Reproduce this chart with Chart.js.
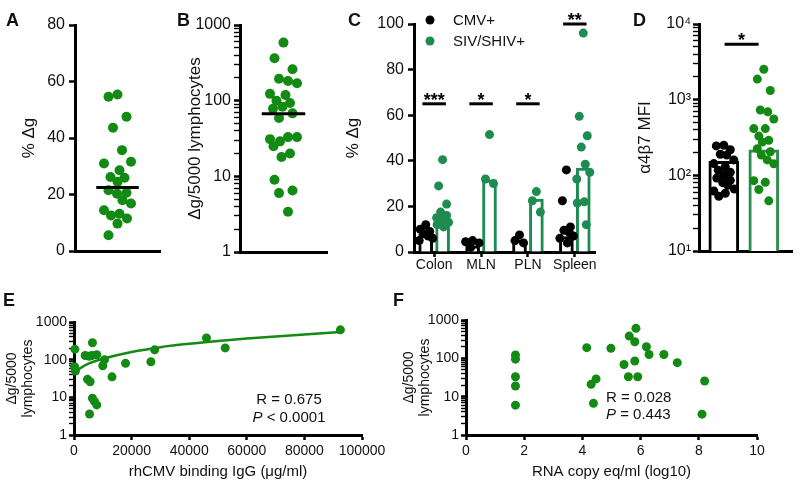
<!DOCTYPE html>
<html>
<head>
<meta charset="utf-8">
<script src="https://cdn.jsdelivr.net/npm/chart.js@4.4.1/dist/chart.umd.min.js"></script>
<style>
    body { margin: 0; background: #fff; }
    #fig { position: relative; width: 800px; height: 490px; overflow: hidden; font-family: 'Liberation Sans', Arial, sans-serif; color: #111; }
    #fig canvas { position: absolute; }
    .tag { position: absolute; font-size: 18px; font-weight: bold; line-height: 18px; }
    .stat { position: absolute; font-size: 15px; line-height: 18px; white-space: nowrap; }
</style>
</head>
<body>
<div id="fig">
    <canvas id="chartA" width="165" height="290" style="left:0px;top:0px"></canvas>
    <canvas id="chartB" width="170" height="290" style="left:165px;top:0px"></canvas>
    <canvas id="chartC" width="270" height="290" style="left:335px;top:0px"></canvas>
    <canvas id="chartD" width="195" height="290" style="left:605px;top:0px"></canvas>
    <canvas id="chartE" width="392" height="195" style="left:0px;top:295px"></canvas>
    <canvas id="chartF" width="408" height="195" style="left:392px;top:295px"></canvas>
    <div class="tag" style="left:6px;top:11px">A</div>
    <div class="tag" style="left:177px;top:11px">B</div>
    <div class="tag" style="left:348px;top:11px">C</div>
    <div class="tag" style="left:633px;top:11px">D</div>
    <div class="tag" style="left:3px;top:291px">E</div>
    <div class="tag" style="left:393px;top:291px">F</div>
    <div class="stat" style="left:239px;top:390px;width:100px;text-align:center">R = 0.675<br><i>P</i> &lt; 0.0001</div>
    <div class="stat" style="left:606px;top:388px;line-height:17px">R = 0.028<br><i>P</i> = 0.443</div>
</div>
<script>
// A: % Δg per animal
const pctDeltaG = [55.4, 54.6, 47.5, 43.6, 35.7, 31.6, 31.0, 28.6, 26.2, 25.9, 24.5, 21.5, 20.6, 20.3, 18.0, 16.8, 14.4, 13.2, 12.6, 11.5, 9.7, 5.6]
const pctDeltaGMean = 22.5

// B: Δg per 5000 lymphocytes
const countDeltaG = [585, 363, 260, 195, 182, 170, 123, 119, 100, 93, 83, 78, 68, 59, 33, 33, 31, 29, 25, 20, 18, 9, 6.5, 6, 3.4]
const countDeltaGMean = 67

// C: % Δg by tissue
const tissues = ['Colon', 'MLN', 'PLN', 'Spleen']
const cmvColon = [12, 10, 9, 8, 7, 6, 5]
const cmvMLN = [5, 4.5, 4, 2]
const cmvPLN = [7.5, 5, 4]
const cmvSpleen = [36, 22.5, 11, 9.5, 8.5, 7, 6, 4]
const sivColon = [40.5, 29, 21, 17.5, 16, 15, 14, 13, 12, 11]
const sivMLN = [51.5, 32, 30]
const sivPLN = [26.5, 22.5, 17.5]
const sivSpleen = [96, 59.5, 51, 46, 38.5, 35, 32, 22, 21.5, 12]
const cmvTissueMeans = [8, 2.5, 5.3, 6.8]
const sivTissueMeans = [15.3, 31.7, 23.2, 36.8]
const tissueSigY = [65, 65, 65, 100]
const tissueSigStars = ['***', '*', '*', '**']

// D: α4β7 MFI
const cmvMfi = [250, 245, 218, 190, 185, 160, 143, 130, 117, 110, 100, 92, 86, 80, 74, 66, 62, 58, 53]
const sivMfi = [2520, 1870, 1320, 730, 690, 555, 415, 415, 330, 290, 275, 225, 205, 185, 160, 142, 85, 81, 65, 46]
const mfiMeans = [153, 218]
const mfiSigY = 5400

// E: rhCMV binding IgG vs Δg count
const igG = [300, 200, 500, 6400, 3900, 6200, 7900, 5300, 10600, 10000, 4700, 5600, 6400, 7100, 7900, 5400, 13200, 17900, 26700, 28000, 46000, 52500, 92500]
const igGCount = [190, 65, 50, 282, 129, 129, 135, 123, 100, 69, 30, 26, 9.5, 7.8, 6.3, 3.6, 35, 80, 88, 182, 377, 205, 620]
const igGFitX = [0, 5000, 10000, 20000, 30000, 40000, 50000, 60000, 70000, 80000, 92500]
const igGFitY = [47, 78, 106, 160, 215, 265, 315, 365, 415, 468, 545]

// F: viral load vs Δg count
const rnaLog = [1.7, 1.7, 1.7, 1.7, 1.7, 4.15, 4.98, 4.3, 4.47, 4.38, 5.43, 5.61, 5.84, 5.8, 5.8, 5.58, 5.9, 6.2, 6.29, 6.8, 7.26, 8.2, 8.11]
const rnaCount = [122, 95, 33, 19, 6, 190, 182, 21, 29, 6.7, 69, 380, 605, 270, 85, 33, 33, 200, 126, 126, 77, 25.7, 3.5]

const green = '#138a13'
const tealGreen = '#1e8c50'
const BAR_SHIFT = 0.18

Chart.defaults.font.family = "'Liberation Sans', Arial, sans-serif"
Chart.defaults.color = '#111'
Chart.defaults.animation = false
Chart.defaults.events = []
Chart.defaults.plugins.legend.display = false
Chart.defaults.plugins.tooltip.enabled = false

const axisLine = { display: true, color: '#000', width: 3 }
const isPow10 = v => Math.abs(Math.log10(v) - Math.round(Math.log10(v))) < 1e-9
const supDigits = ['\u2070', '\u00b9', '\u00b2', '\u00b3', '\u2074']

const fixWidth = w => scale => { scale.width = w }
const fixHeight = h => scale => { scale.height = h }

// 1..9 per decade, so the minor ticks show like the original
function logTicks(scale) {
    const ticks = []
    const lo = Math.round(Math.log10(scale.min))
    const hi = Math.round(Math.log10(scale.max))
    for (let e = lo; e < hi; e++) {
        for (let m = 1; m < 10; m++) ticks.push({ value: m * Math.pow(10, e) })
    }
    ticks.push({ value: Math.pow(10, hi) })
    scale.ticks = ticks
}

const tickMarks = {
    display: true,
    drawOnChartArea: false,
    offset: false,
    tickLength: 6,
    tickColor: '#000',
    tickWidth: 2.5,
}
const logTickMarks = {
    display: true,
    drawOnChartArea: false,
    tickLength: 6,
    tickColor: '#000',
    tickWidth: c => isPow10(c.tick.value) ? 2.5 : 1.4,
}

function yTitle(text, size) {
    return { display: true, text: text, font: { size: size }, padding: { top: 4, bottom: 4 } }
}

// spreads dots sideways in a group so they overlap like the original
const swarmPrefs = [0, -0.6, 0.6, -0.3, 0.3, 0.9, -0.9, 0.15, -0.45, 0.45]
function swarm(chart, dsIndex, maxOff, gap) {
    const ds = chart.data.datasets[dsIndex]
    const xs = chart.scales.x
    const ys = chart.scales.y
    const groups = {}
    ds.data.forEach(p => { (groups[p.x] = groups[p.x] || []).push(p) })
    Object.keys(groups).forEach(key => {
        const cx = xs.getPixelForValue(Number(key))
        const placed = []
        groups[key].slice().sort((a, b) => b.y - a.y).forEach((p, i) => {
            const py = ys.getPixelForValue(p.y)
            const want = swarmPrefs[i % swarmPrefs.length] * maxOff
            let best = want
            let bestCost = Infinity
            for (let off = -maxOff; off <= maxOff; off += 0.5) {
                let near = gap
                placed.forEach(q => { near = Math.min(near, Math.hypot(q.dx - off, q.py - py)) })
                const cost = (gap - near) * 4 + Math.abs(off - want)
                if (cost < bestCost) { bestCost = cost; best = off }
            }
            placed.push({ dx: best, py: py })
            p.x = xs.getValueForPixel(cx + best)
        })
    })
}

// stars over significance bars, and the dot legend of panel C
const extras = {
    id: 'extras',
    afterDatasetsDraw(chart, args, opts) {
        const ctx = chart.ctx
        ctx.save()
        chart.data.datasets.forEach((ds, i) => {
            if (!ds.stars) return
            const pts = chart.getDatasetMeta(i).data
            ctx.font = "bold 18px 'Liberation Sans', Arial, sans-serif"
            ctx.textAlign = 'center'
            ctx.textBaseline = 'alphabetic'
            ctx.fillStyle = '#000'
            ctx.fillText(ds.stars, (pts[0].x + pts[1].x) / 2, pts[0].y + 2)
        })
        if (opts.legend) {
            const lg = opts.legend
            let row = 0
            chart.data.datasets.forEach(ds => {
                if (!ds.legendDot) return
                const x = chart.chartArea.left + lg.dx
                const y = chart.chartArea.top + lg.dy + row * lg.gap
                ctx.fillStyle = ds.backgroundColor
                ctx.beginPath()
                ctx.arc(x, y, 4.5, 0, Math.PI * 2)
                ctx.fill()
                ctx.fillStyle = '#111'
                ctx.font = "15px 'Liberation Sans', Arial, sans-serif"
                ctx.textAlign = 'left'
                ctx.textBaseline = 'middle'
                ctx.fillText(ds.label, x + 23, y + 1)
                row++
            })
        }
        ctx.restore()
    }
}
Chart.register(extras)

// ---- A ----
const chartA = new Chart(document.getElementById('chartA'), {
    type: 'scatter',
    data: {
        datasets: [{
            data: pctDeltaG.map(v => ({ x: 0, y: v })),
            backgroundColor: green,
            pointRadius: 5,
            borderWidth: 0,
            clip: false,
            order: 0,
        }, {
            type: 'line',
            data: [{ x: -0.5, y: pctDeltaGMean }, { x: 0.5, y: pctDeltaGMean }],
            borderColor: '#000',
            borderWidth: 3,
            pointRadius: 0,
            order: -1,
        }]
    },
    options: {
        responsive: false,
        layout: { padding: { left: 15, top: 25, right: 5, bottom: 35 } },
        scales: {
            x: {
                type: 'linear', min: -1, max: 1,
                afterFit: fixHeight(4),
                ticks: { display: false },
                grid: { display: false },
                border: axisLine,
            },
            y: {
                min: 0, max: 80,
                afterFit: fixWidth(60),
                ticks: { stepSize: 20, font: { size: 16 }, padding: 4 },
                grid: tickMarks,
                border: axisLine,
                title: yTitle('% Δg', 17),
            }
        }
    }
})
swarm(chartA, 0, 15, 9)
chartA.update('none')

// ---- B ----
const chartB = new Chart(document.getElementById('chartB'), {
    type: 'scatter',
    data: {
        datasets: [{
            data: countDeltaG.map(v => ({ x: 0, y: v })),
            backgroundColor: green,
            pointRadius: 5,
            borderWidth: 0,
            clip: false,
            order: 0,
        }, {
            type: 'line',
            data: [{ x: -0.5, y: countDeltaGMean }, { x: 0.5, y: countDeltaGMean }],
            borderColor: '#000',
            borderWidth: 3,
            pointRadius: 0,
            order: -1,
        }]
    },
    options: {
        responsive: false,
        layout: { padding: { left: 16, top: 25, right: 8, bottom: 34 } },
        scales: {
            x: {
                type: 'linear', min: -1, max: 1,
                afterFit: fixHeight(4),
                ticks: { display: false },
                grid: { display: false },
                border: axisLine,
            },
            y: {
                type: 'logarithmic', min: 1, max: 1000,
                afterFit: fixWidth(59),
                afterBuildTicks: logTicks,
                ticks: { autoSkip: false, font: { size: 16 }, padding: 3, callback: v => isPow10(v) ? String(v) : '' },
                grid: logTickMarks,
                border: axisLine,
                title: yTitle('Δg/5000 lymphocytes', 17),
            }
        }
    }
})
swarm(chartB, 0, 15, 9)
chartB.update('none')

// ---- C ----
const cmvTissuePoints = [cmvColon, cmvMLN, cmvPLN, cmvSpleen]
const sivTissuePoints = [sivColon, sivMLN, sivPLN, sivSpleen]

const sigLinesC = tissues.map((t, i) => ({
    type: 'line',
    data: [{ x: i - 0.25, y: tissueSigY[i] }, { x: i + 0.25, y: tissueSigY[i] }],
    stars: tissueSigStars[i],
    borderColor: '#000',
    borderWidth: 3,
    pointRadius: 0,
    clip: false,
    order: 1,
}))

const chartC = new Chart(document.getElementById('chartC'), {
    type: 'scatter',
    data: {
        datasets: [{
            label: 'CMV+',
            legendDot: true,
            data: cmvTissuePoints.flatMap((vals, i) => vals.map(v => ({ x: i - BAR_SHIFT, y: v }))),
            backgroundColor: '#000',
            pointRadius: 4.5,
            borderWidth: 0,
            clip: false,
            order: 0,
        }, {
            label: 'SIV/SHIV+',
            legendDot: true,
            data: sivTissuePoints.flatMap((vals, i) => vals.map(v => ({ x: i + BAR_SHIFT, y: v }))),
            backgroundColor: tealGreen,
            pointRadius: 4.5,
            borderWidth: 0,
            clip: false,
            order: 0,
        }, {
            type: 'bar',
            data: tissues.map((t, i) => ({ x: i - BAR_SHIFT, y: cmvTissueMeans[i] })),
            backgroundColor: '#fff',
            borderColor: '#000',
            borderWidth: 3,
            borderSkipped: 'start',
            barThickness: 14,
            grouped: false,
            order: 2,
        }, {
            type: 'bar',
            data: tissues.map((t, i) => ({ x: i + BAR_SHIFT, y: sivTissueMeans[i] })),
            backgroundColor: '#fff',
            borderColor: tealGreen,
            borderWidth: 3,
            borderSkipped: 'start',
            barThickness: 14,
            grouped: false,
            order: 2,
        }, ...sigLinesC]
    },
    options: {
        responsive: false,
        layout: { padding: { left: 4, top: 24, right: 10, bottom: 8 } },
        plugins: { extras: { legend: { dx: 16, dy: -4, gap: 21 } } },
        scales: {
            x: {
                type: 'linear', min: -0.43, max: 3.43, offset: false,
                afterFit: fixHeight(30),
                afterBuildTicks: scale => { scale.ticks = tissues.map((t, i) => ({ value: i })) },
                ticks: { autoSkip: false, maxRotation: 0, font: { size: 14 }, padding: 0, callback: v => tissues[v] },
                grid: Object.assign({}, tickMarks, { tickLength: 5 }),
                border: axisLine,
            },
            y: {
                min: 0, max: 100,
                afterFit: fixWidth(75),
                ticks: { stepSize: 20, font: { size: 16 }, padding: 4 },
                grid: tickMarks,
                border: axisLine,
                title: yTitle('% Δg', 17),
            }
        }
    }
})
swarm(chartC, 0, 7, 7)
swarm(chartC, 1, 7, 7)
chartC.update('none')

// ---- D ----
const chartD = new Chart(document.getElementById('chartD'), {
    type: 'scatter',
    data: {
        datasets: [{
            data: cmvMfi.map(v => ({ x: 0, y: v })),
            backgroundColor: '#000',
            pointRadius: 4.5,
            borderWidth: 0,
            clip: false,
            order: 0,
        }, {
            data: sivMfi.map(v => ({ x: 1, y: v })),
            backgroundColor: green,
            pointRadius: 4.5,
            borderWidth: 0,
            clip: false,
            order: 0,
        }, {
            type: 'bar',
            data: [{ x: 0, y: mfiMeans[0] }],
            backgroundColor: '#fff',
            borderColor: '#000',
            borderWidth: 3,
            borderSkipped: 'start',
            barThickness: 30,
            grouped: false,
            order: 2,
        }, {
            type: 'bar',
            data: [{ x: 1, y: mfiMeans[1] }],
            backgroundColor: '#fff',
            borderColor: '#2e8b4e',
            borderWidth: 3,
            borderSkipped: 'start',
            barThickness: 30,
            grouped: false,
            order: 2,
        }, {
            type: 'line',
            data: [{ x: 0.02, y: mfiSigY }, { x: 0.87, y: mfiSigY }],
            stars: '*',
            borderColor: '#000',
            borderWidth: 3,
            pointRadius: 0,
            clip: false,
            order: 1,
        }]
    },
    options: {
        responsive: false,
        layout: { padding: { left: 26, top: 24, right: 8, bottom: 35 } },
        scales: {
            x: {
                type: 'linear', min: -0.62, max: 1.705, offset: false,
                afterFit: fixHeight(4),
                ticks: { display: false },
                grid: { display: false, offset: false },
                border: axisLine,
            },
            y: {
                type: 'logarithmic', min: 10, max: 10000,
                afterFit: fixWidth(68),
                afterBuildTicks: logTicks,
                ticks: {
                    autoSkip: false, font: { size: 16 }, padding: 2,
                    callback: v => isPow10(v) ? '10' + supDigits[Math.round(Math.log10(v))] : ''
                },
                grid: logTickMarks,
                border: axisLine,
                title: yTitle('α4β7 MFI', 17),
            }
        }
    }
})
swarm(chartD, 0, 11, 7.5)
swarm(chartD, 1, 11, 7.5)
chartD.update('none')

// ---- E ----
const lowerY = {
    type: 'logarithmic', min: 1, max: 1000,
    afterBuildTicks: logTicks,
    ticks: { autoSkip: false, font: { size: 14 }, padding: 2, callback: v => isPow10(v) ? String(v) : '' },
    grid: Object.assign({}, logTickMarks, { tickLength: 5 }),
    border: axisLine,
    title: { display: true, text: ['Δg/5000', 'lymphocytes'], font: { size: 14, lineHeight: 1.15 }, padding: { top: 4, bottom: 4 } },
}

new Chart(document.getElementById('chartE'), {
    type: 'scatter',
    data: {
        datasets: [{
            data: igG.map((x, i) => ({ x: x, y: igGCount[i] })),
            backgroundColor: green,
            pointRadius: 4.5,
            borderWidth: 0,
            clip: false,
            order: 0,
        }, {
            type: 'line',
            data: igGFitX.map((x, i) => ({ x: x, y: igGFitY[i] })),
            borderColor: green,
            borderWidth: 2.5,
            pointRadius: 0,
            tension: 0.4,
            order: 1,
        }]
    },
    options: {
        responsive: false,
        layout: { padding: { left: 0, top: 27, right: 30, bottom: 5 } },
        scales: {
            x: {
                type: 'linear', min: 0, max: 100000,
                afterFit: fixHeight(50),
                ticks: { stepSize: 20000, font: { size: 14 }, padding: 3, maxRotation: 0, callback: v => String(v) },
                grid: Object.assign({}, tickMarks, { tickLength: 5 }),
                border: axisLine,
                title: { display: true, text: 'rhCMV binding IgG (μg/ml)', font: { size: 15 }, padding: { top: 4, bottom: 4 } },
            },
            y: Object.assign({}, lowerY, { afterFit: fixWidth(74) })
        }
    }
})

// ---- F ----
new Chart(document.getElementById('chartF'), {
    type: 'scatter',
    data: {
        datasets: [{
            data: rnaLog.map((x, i) => ({ x: x, y: rnaCount[i] })),
            backgroundColor: green,
            pointRadius: 4.5,
            borderWidth: 0,
            clip: false,
        }]
    },
    options: {
        responsive: false,
        layout: { padding: { left: 5, top: 25, right: 43, bottom: 5 } },
        scales: {
            x: {
                type: 'linear', min: 0, max: 10,
                afterFit: fixHeight(50),
                ticks: { stepSize: 2, font: { size: 14 }, padding: 3, maxRotation: 0 },
                grid: Object.assign({}, tickMarks, { tickLength: 5 }),
                border: axisLine,
                title: { display: true, text: 'RNA copy eq/ml (log10)', font: { size: 15 }, padding: { top: 4, bottom: 4 } },
            },
            y: Object.assign({}, lowerY, { afterFit: fixWidth(69) })
        }
    }
})
</script>
</body>
</html>
